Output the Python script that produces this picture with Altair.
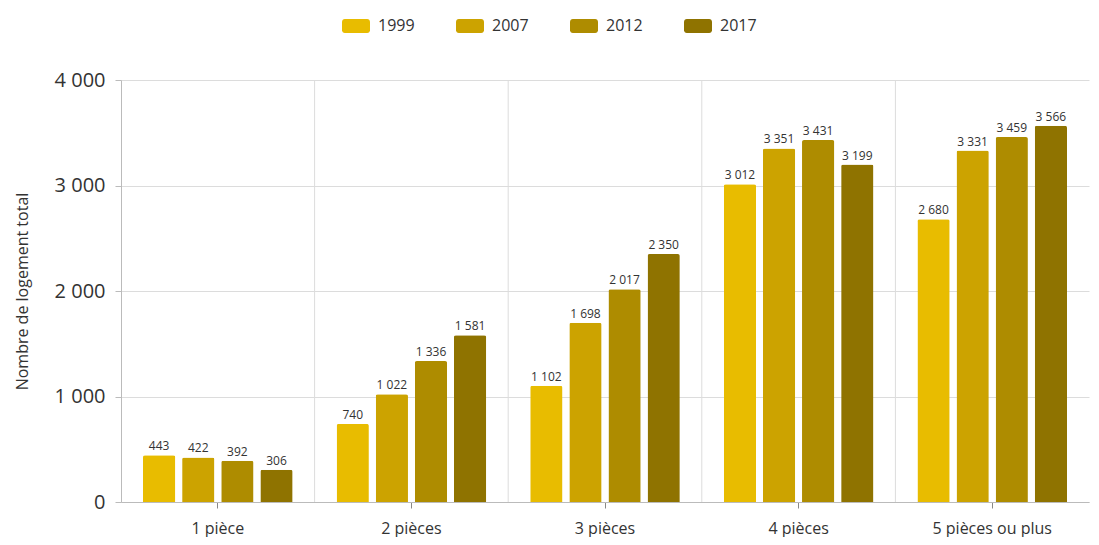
import altair as alt
import pandas as pd

categories = ["1 pièce", "2 pièces", "3 pièces", "4 pièces", "5 pièces ou plus"]
years = ["1999", "2007", "2012", "2017"]
v1999 = [443, 740, 1102, 3012, 2680]
v2007 = [422, 1022, 1698, 3351, 3331]
v2012 = [392, 1336, 2017, 3431, 3459]
v2017 = [306, 1581, 2350, 3199, 3566]
colors = ["#E8BC00", "#CCA300", "#AE8C00", "#8F7300"]
y_ticks = [0, 1000, 2000, 3000, 4000]

series = {"1999": v1999, "2007": v2007, "2012": v2012, "2017": v2017}
rows = []
for y in years:
    for c, v in zip(categories, series[y]):
        rows.append({"cat": c, "year": y, "value": v})
df = pd.DataFrame(rows)
sep_df = pd.DataFrame({"cat": categories[1:]})

FONT = "Open Sans"
W = 968
xscale = alt.Scale(domain=categories, paddingInner=0, paddingOuter=0)
offscale = alt.Scale(domain=years, paddingInner=0.175, paddingOuter=0.5625)
yscale = alt.Scale(domain=[0, 4000], nice=False)

rounded = ("M-0.8,-0.5 H0.8 A0.2,0.2 0 0 1 1,-0.3 V0.3 A0.2,0.2 0 0 1 0.8,0.5 "
           "H-0.8 A0.2,0.2 0 0 1 -1,0.3 V-0.3 A0.2,0.2 0 0 1 -0.8,-0.5 Z")

seps = alt.Chart(sep_df).mark_rule(color="#dcdcdc", strokeWidth=1,
                                   xOffset=-W / len(categories) / 2).encode(
    x=alt.X("cat:N", scale=xscale),
)

bars = alt.Chart(df).mark_bar(cornerRadiusTopLeft=2, cornerRadiusTopRight=2).encode(
    x=alt.X("cat:N", scale=xscale, sort=categories, title=None,
            axis=alt.Axis(labelFontSize=16, labelColor="#333", labelPadding=12,
                          labelAlign="center", labelBaseline="top",
                          ticks=True, tickSize=6, tickWidth=1, tickColor="#888",
                          tickOpacity=1, domainColor="#bbb", bandPosition=0.5,
                          labelAngle=0, grid=False, labelFont=FONT)),
    xOffset=alt.XOffset("year:N", scale=offscale),
    y=alt.Y("value:Q", scale=yscale, title="Nombre de logement total",
            axis=alt.Axis(values=y_ticks, format=",d", labelFontSize=20, labelColor="#333",
                          labelPadding=10, tickSize=6, tickColor="#bbb", domainColor="#bbb",
                          gridColor="#dcdcdc", titleFontSize=16, titleFontWeight="normal",
                          titleColor="#333", titlePadding=24, labelFont=FONT, titleFont=FONT)),
    color=alt.Color("year:N", scale=alt.Scale(domain=years, range=colors),
                    legend=alt.Legend(title=None, orient="none", direction="horizontal",
                                      legendX=221, legendY=-68, symbolType=rounded,
                                      symbolSize=784, symbolOpacity=1, symbolStrokeWidth=0,
                                      labelFontSize=16, labelColor="#333", labelFont=FONT,
                                      labelOffset=8, columnPadding=40, padding=0)),
)

labels = alt.Chart(df).mark_text(dy=-9, fontSize=12, color="#333", font=FONT).encode(
    x=alt.X("cat:N", scale=xscale),
    xOffset=alt.XOffset("year:N", scale=offscale),
    y=alt.Y("value:Q", scale=yscale),
    text=alt.Text("value:Q", format=",d"),
)

chart = alt.layer(seps, bars, labels).properties(
    width=W, height=422,
    autosize=alt.AutoSizeParams(type="none"),
    padding={"left": 113, "top": 72, "right": 2, "bottom": 35},
).configure(font=FONT, view=alt.ViewConfig(stroke=None))

chart.save("out.html", embed_options={
    "renderer": "svg", "actions": False,
    "formatLocale": {"decimal": ",", "thousands": "\u00a0", "grouping": [3], "currency": ["", " €"]},
})
